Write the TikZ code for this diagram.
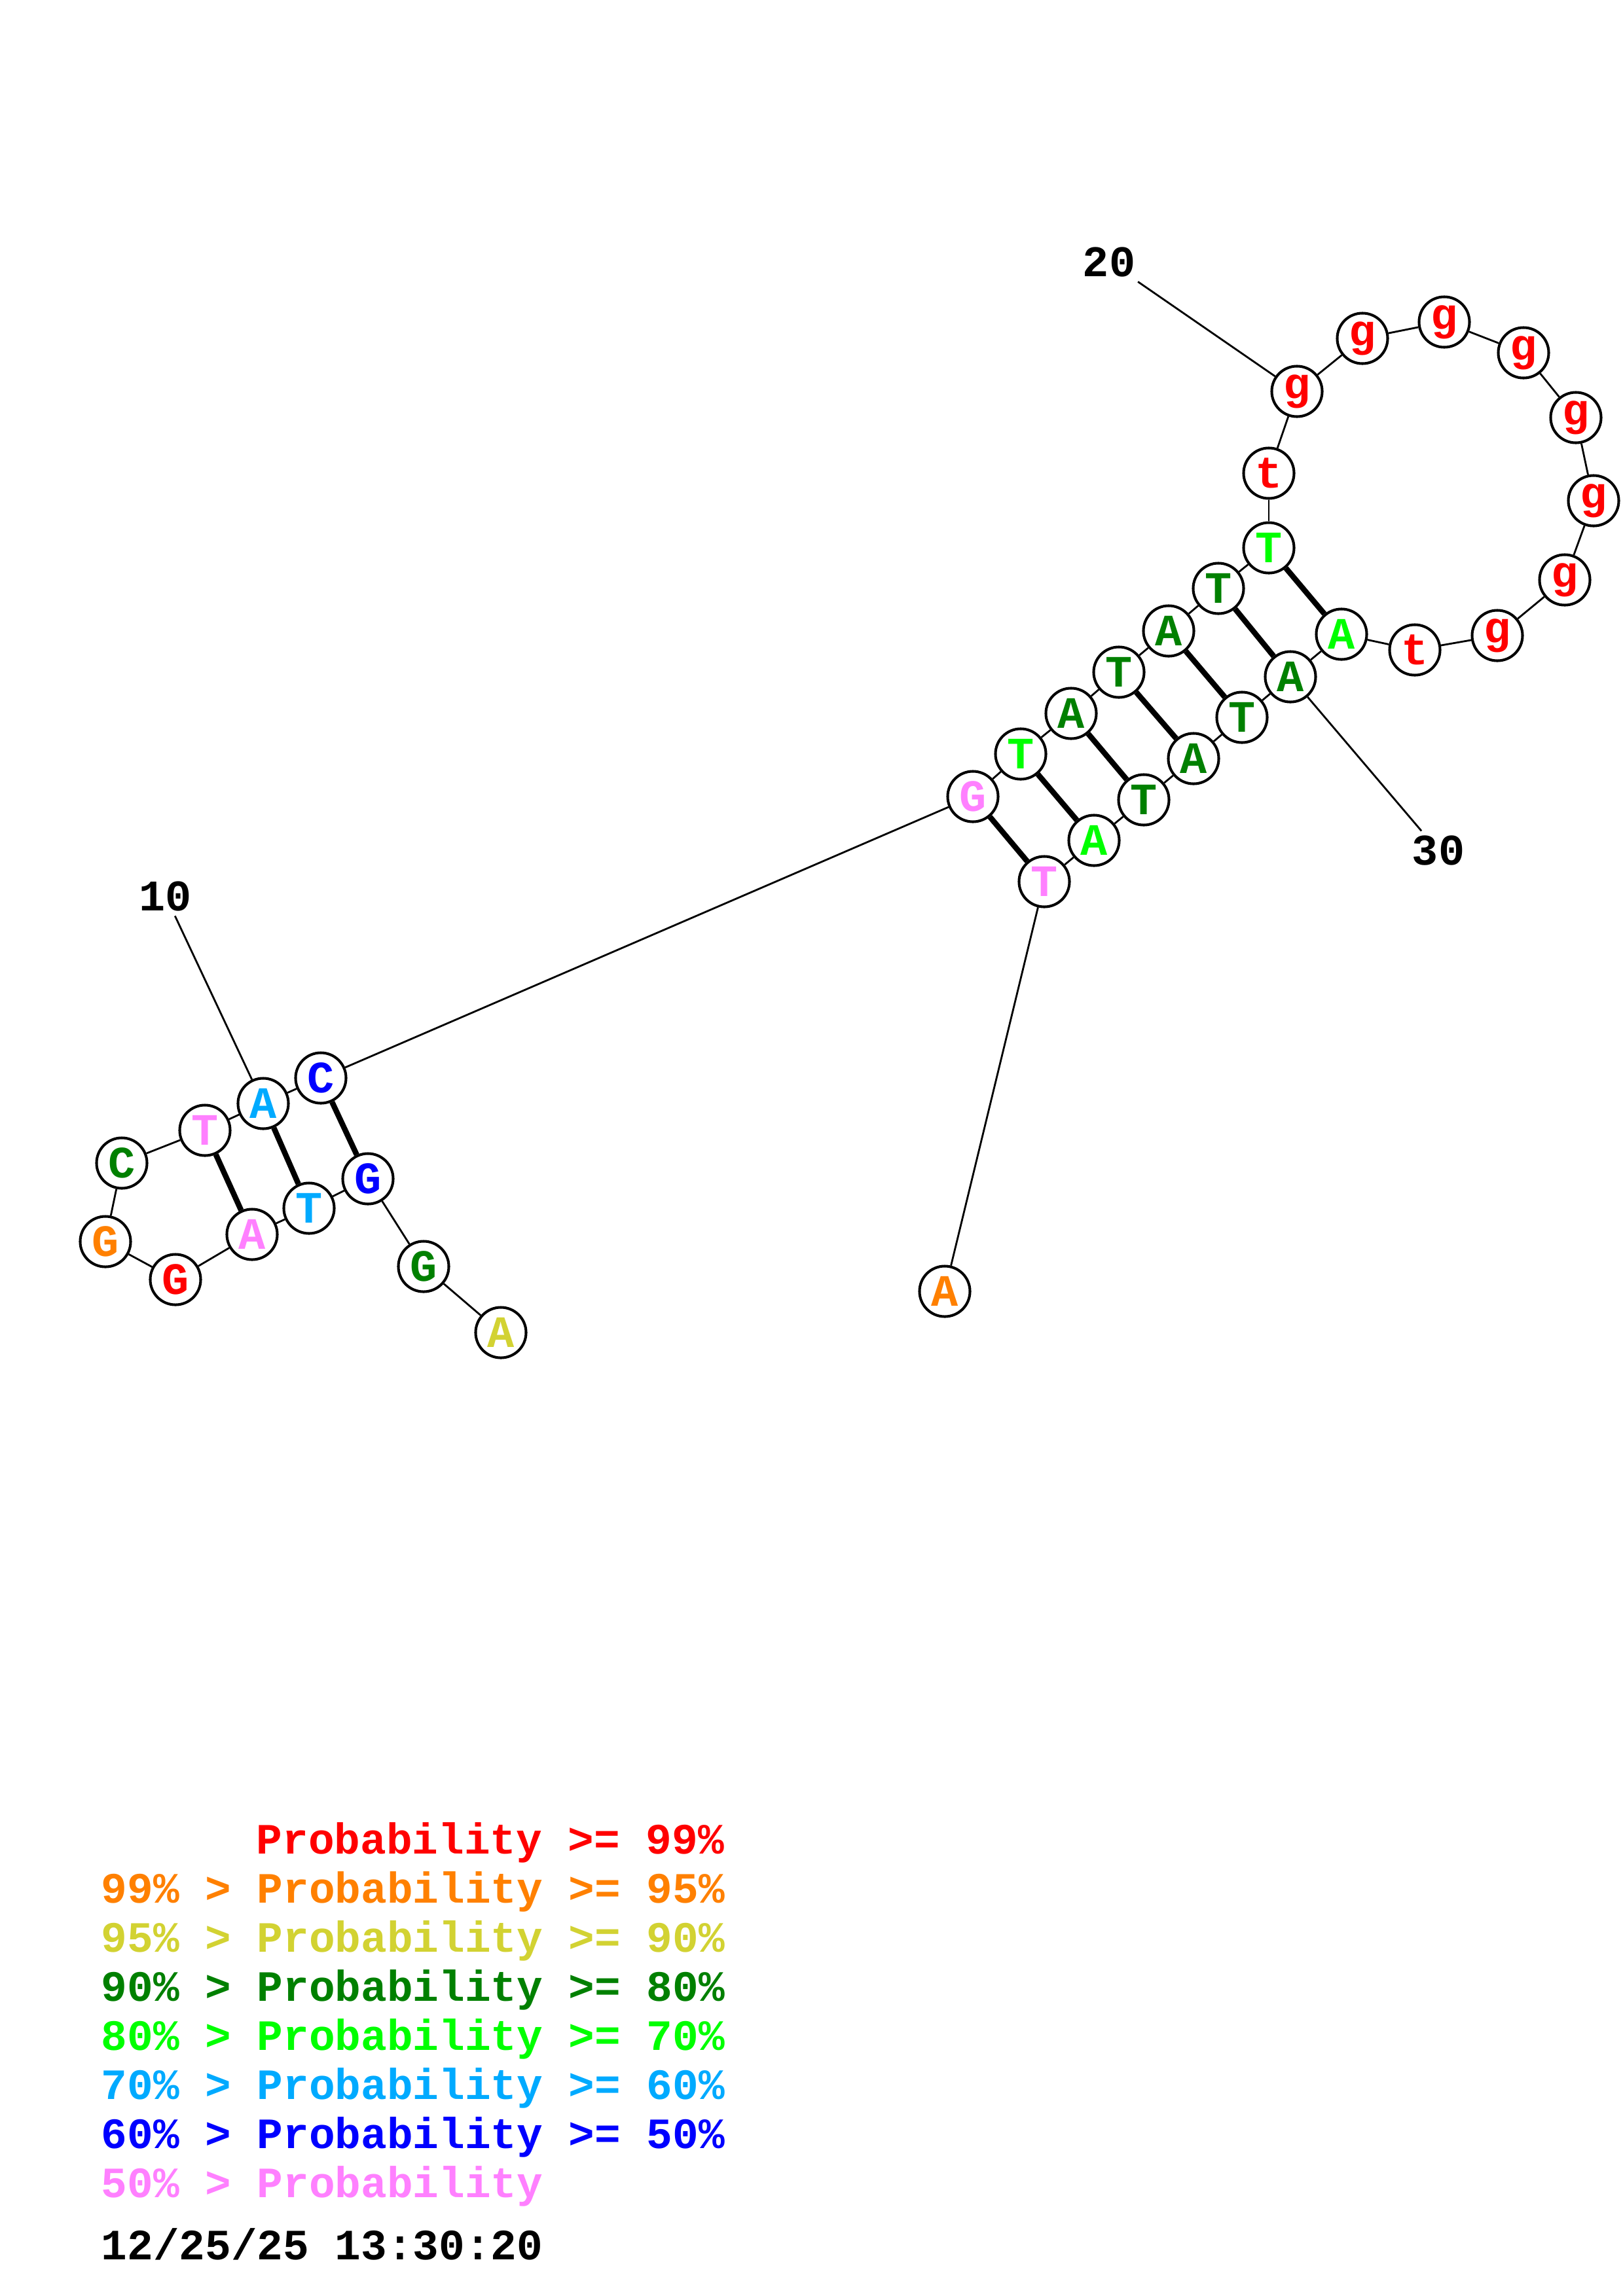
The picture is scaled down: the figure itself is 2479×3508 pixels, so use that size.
\documentclass[tikz,border=0pt]{standalone}
\usepackage{fontspec}
\setmonofont{Liberation Mono}
\usetikzlibrary{positioning}

\definecolor{pr99}{RGB}{255,0,0}
\definecolor{pr95}{RGB}{255,128,0}
\definecolor{pr90}{RGB}{210,210,50}
\definecolor{pr80}{RGB}{0,128,0}
\definecolor{pr70}{RGB}{0,255,0}
\definecolor{pr60}{RGB}{0,170,255}
\definecolor{pr50}{RGB}{0,0,255}
\definecolor{pr00}{RGB}{255,128,255}

\tikzset{
  base/.style={circle, draw, line width=1.15pt, fill=white, minimum size=0.77cm, inner sep=0pt,
    font=\ttfamily\bfseries\fontsize{19.5}{22}\selectfont},
  bb/.style={line width=0.8pt},
  pair/.style={line width=2.4pt},
  num/.style={font=\ttfamily\bfseries\fontsize{19}{22}\selectfont, inner sep=2pt},
  legend/.style={anchor=base west, inner sep=0pt, font=\ttfamily\bfseries\fontsize{18.8}{22}\selectfont}
}

\begin{document}
\begin{tikzpicture}[x=0.01cm, y=-0.01cm]
  \useasboundingbox (0,0) rectangle (2479,3508);

  % first hairpin
  \node[base, text=pr90] (1) at (765,2036) {A};
  \node[base, text=pr80] (2) at (647,1935) {G};
  \node[base, text=pr50] (3) at (562,1801) {G};
  \node[base, text=pr60] (4) at (472,1846) {T};
  \node[base, text=pr00] (5) at (385,1886) {A};
  \node[base, text=pr99] (6) at (268,1955) {G};
  \node[base, text=pr95] (7) at (161,1897) {G};
  \node[base, text=pr80] (8) at (186,1777) {C};
  \node[base, text=pr00] (9) at (313,1727) {T};
  \node[base, text=pr60] (10) at (402,1686) {A};
  \node[base, text=pr50] (11) at (490,1647) {C};

  % second hairpin
  \node[base, text=pr00] (12) at (1486,1217) {G};
  \node[base, text=pr70] (13) at (1559,1152) {T};
  \node[base, text=pr80] (14) at (1636,1090) {A};
  \node[base, text=pr80] (15) at (1709,1027) {T};
  \node[base, text=pr80] (16) at (1785,964) {A};
  \node[base, text=pr80] (17) at (1861,899) {T};
  \node[base, text=pr70] (18) at (1938,837) {T};
  \node[base, text=pr99] (19) at (1938,723) {t};
  \node[base, text=pr99] (20) at (1981,598) {g};
  \node[base, text=pr99] (21) at (2081,517) {g};
  \node[base, text=pr99] (22) at (2206,492) {g};
  \node[base, text=pr99] (23) at (2327,539) {g};
  \node[base, text=pr99] (24) at (2407,638) {g};
  \node[base, text=pr99] (25) at (2434,765) {g};
  \node[base, text=pr99] (26) at (2390,886) {g};
  \node[base, text=pr99] (27) at (2287,971) {g};
  \node[base, text=pr99] (28) at (2161,993) {t};
  \node[base, text=pr70] (29) at (2049,969) {A};
  \node[base, text=pr80] (30) at (1971,1034) {A};
  \node[base, text=pr80] (31) at (1897,1096) {T};
  \node[base, text=pr80] (32) at (1823,1159) {A};
  \node[base, text=pr80] (33) at (1747,1222) {T};
  \node[base, text=pr70] (34) at (1671,1284) {A};
  \node[base, text=pr00] (35) at (1595,1347) {T};
  \node[base, text=pr95] (36) at (1443,1973) {A};

  % numbering
  \node[num] (n10) at (253,1369) {10};
  \node[num] (n20) at (1694,400) {20};
  \node[num] (n30) at (2197,1300) {30};

  \path[bb] (1) edge (2) (2) edge (3) (3) edge (4) (4) edge (5) (5) edge (6)
            (6) edge (7) (7) edge (8) (8) edge (9) (9) edge (10) (10) edge (11)
            (11) edge (12) (12) edge (13) (13) edge (14) (14) edge (15) (15) edge (16)
            (16) edge (17) (17) edge (18) (18) edge (19) (19) edge (20) (20) edge (21)
            (21) edge (22) (22) edge (23) (23) edge (24) (24) edge (25) (25) edge (26)
            (26) edge (27) (27) edge (28) (28) edge (29) (29) edge (30) (30) edge (31)
            (31) edge (32) (32) edge (33) (33) edge (34) (34) edge (35) (35) edge (36);
  \path[pair] (11) edge (3) (10) edge (4) (9) edge (5)
              (12) edge (35) (13) edge (34) (14) edge (33) (15) edge (32)
              (16) edge (31) (17) edge (30) (18) edge (29);
  \path[bb] (n10) edge (10) (n20) edge (20) (n30) edge (30);

  % legend
  \node[legend, text=pr99] (l99) at (391,2832) {Probability >= 99\%};
  \node[legend, text=pr95] (l95) at (154,2907) {99\% > Probability >= 95\%};
  \node[legend, text=pr90] (l90) at (154,2982) {95\% > Probability >= 90\%};
  \node[legend, text=pr80] (l80) at (154,3057) {90\% > Probability >= 80\%};
  \node[legend, text=pr70] (l70) at (154,3132) {80\% > Probability >= 70\%};
  \node[legend, text=pr60] (l60) at (154,3207) {70\% > Probability >= 60\%};
  \node[legend, text=pr50] (l50) at (154,3282) {60\% > Probability >= 50\%};
  \node[legend, text=pr00] (l00) at (154,3357) {50\% > Probability};
  \node[legend] (date) at (154,3452) {12/25/25 13:30:20};
\end{tikzpicture}
\end{document}
